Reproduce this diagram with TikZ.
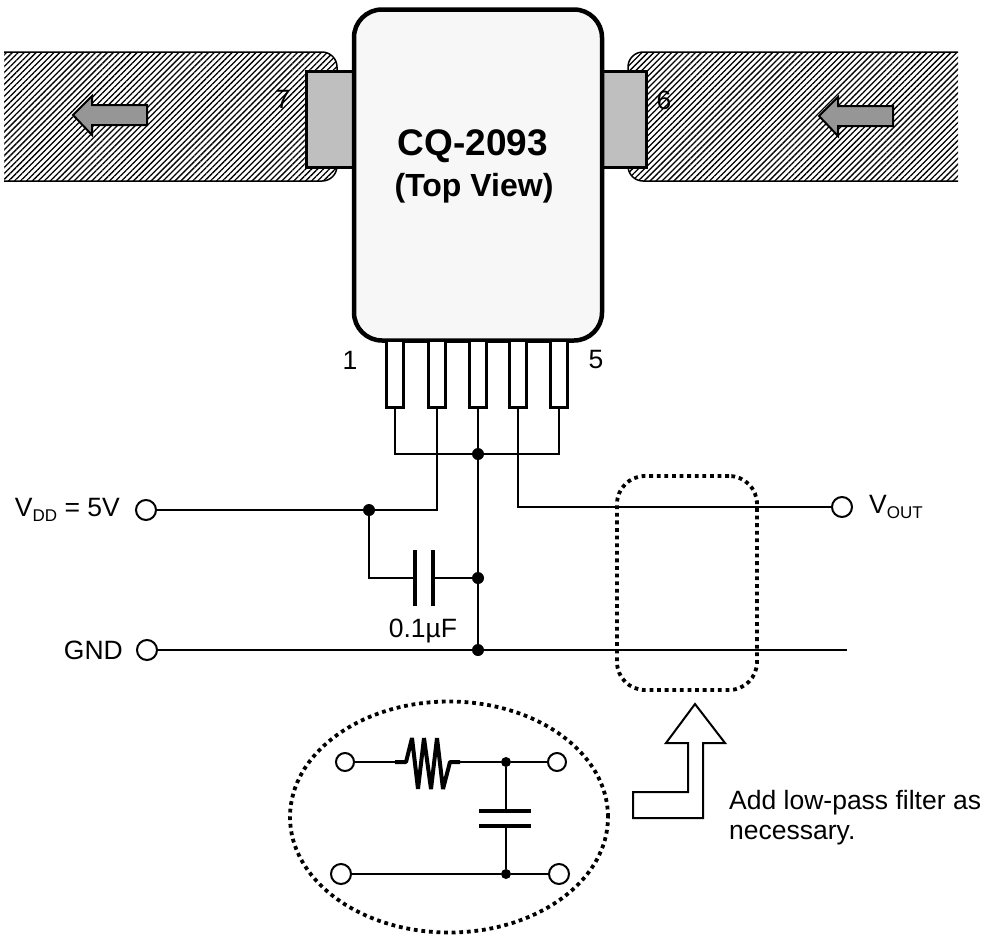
\documentclass[tikz,border=0pt]{standalone}
\usepackage{fontspec}
\setmainfont{Liberation Sans}
\usetikzlibrary{shapes.geometric,patterns.meta}

\newcommand{\subtxt}[1]{\raisebox{-0.2em}{\fontsize{17}{17}\selectfont #1}}

\tikzset{
  lbl/.style={font=\fontsize{26.5}{30}\selectfont, inner sep=0pt},
  wire/.style={line width=2pt, line join=miter},
  term/.style={circle, draw, line width=2pt, fill=white, inner sep=0pt, minimum size=20pt},
  smallterm/.style={term, minimum size=18pt},
  junc/.style={circle, fill=black, inner sep=0pt, minimum size=12pt},
  plate/.style={line width=4pt},
  dots/.style={line width=3.8pt, dash pattern=on 3.8pt off 3.8pt},
  pinbox/.style={rectangle, draw, line width=3pt, fill=white, inner sep=0pt, minimum width=17pt, minimum height=67pt},
  tabbox/.style={draw, line width=3pt, fill=black!25},
  hatch/.style={pattern={Lines[angle=45,distance=4.2pt,line width=1.3pt]}},
  flowarrow/.style={draw, line width=2pt, fill=black!41, line join=miter}
}

\begin{document}
\begin{tikzpicture}[x=1pt,y=-1pt]
\useasboundingbox (0,0) rectangle (988,938);

% boards
\fill [hatch] (4,52) [rounded corners=15pt] -- (337,52) -- (337,181) [sharp corners] -- (4,181) -- cycle;
\draw [line width=1.5pt, rounded corners=15pt] (4,52) -- (337,52) -- (337,181) -- (4,181);
\fill [hatch] (958,52) [rounded corners=15pt] -- (628,52) -- (628,181) [sharp corners] -- (958,181) -- cycle;
\draw [line width=1.5pt, rounded corners=15pt] (958,52) -- (628,52) -- (628,181) -- (958,181);

\foreach \dx/\dy in {0/0,746/1}
   \draw [flowarrow, shift={(\dx,\dy)}] (73,115) -- (92,96) -- (92,105) -- (147,105)
      -- (147,125) -- (92,125) -- (92,135) -- cycle;

% package
\draw [tabbox] (353,71) rectangle (306,167);
\draw [tabbox] (602,71) rectangle (646,167);
\node (chip) at (478,175) [rectangle, rounded corners=28pt, draw, line width=4.5pt, fill=black!3,
   minimum width=248pt, minimum height=331pt, inner sep=0pt] {};

\node (name) at (473,146) [lbl, font=\fontsize{37}{37}\selectfont\bfseries] {CQ-2093};
\node (view) at (474,188) [lbl, font=\fontsize{32}{32}\selectfont\bfseries] {(Top View)};
\node (p7) at (283,99) [lbl] {7};
\node (p6) at (664,100) [lbl] {6};
\node (p1) at (350,360) [lbl] {1};
\node (p5) at (596,360) [lbl] {5};

\foreach \i/\x in {1/395,2/437,3/478,4/518,5/559}
   \node (pin\i) at (\x,374) [pinbox] {};

% supply and ground
\node (vdd) at (146,510) [term] {};
\node (gnd) at (147,650) [term] {};
\node (vout) at (842,507) [term] {};
\coordinate (gndend) at (847,650);
\node (jbus) at (478,454) [junc] {};
\node (jcap) at (478,578) [junc] {};
\node (jgnd) at (478,650) [junc] {};
\node (jvdd) at (369,510) [junc] {};
\coordinate (capl) at (415,578);
\coordinate (capr) at (433,578);

\draw [wire] (pin1.south) |- (jbus);
\draw [wire] (pin5.south) |- (jbus);
\draw [wire] (pin3.south) -- (jbus) -- (jcap) -- (jgnd);
\draw [wire] (pin2.south) |- (jvdd) -- (vdd);
\draw [wire] (pin4.south) |- (vout);
\draw [wire] (gnd) -- (jgnd) -- (gndend);
\draw [wire] (jvdd) |- (capl);
\draw [wire] (capr) -- (jcap);
\draw [plate] (415,550) -- (415,606);
\draw [plate] (433,550) -- (433,606);

\node (vddtxt) at (120,510) [lbl, anchor=east] {V\subtxt{DD} = 5V};
\node (gndtxt) at (123,650) [lbl, anchor=east] {GND};
\node (vouttxt) at (869,507) [lbl, anchor=west] {V\subtxt{OUT}};
\node (captxt) at (423,631) [lbl] {0.1µF};

% filter
\node (fbox) at (687,583) [rectangle, rounded corners=28pt, draw, dots, minimum width=140pt,
   minimum height=214pt, inner sep=0pt] {};
\draw [line width=2pt, line join=miter, fill=white] (695,704) -- (725,743) -- (703,743) -- (703,818)
   -- (633,818) -- (633,792) -- (688,792) -- (688,743) -- (666,743) -- cycle;
\node (note) at (729,790) [lbl, anchor=north west, align=left] {Add low-pass filter as\\necessary.};

\node (fring) at (449,817) [ellipse, draw, dots, minimum width=318pt, minimum height=231pt, inner sep=0pt] {};

\node (fin) at (345,762) [smallterm] {};
\node (fout) at (557,762) [smallterm] {};
\node (fgin) at (341,874) [term] {};
\node (fgout) at (559,874) [term] {};
\node (jf) at (506,762) [junc, minimum size=10pt] {};
\node (jfg) at (506,874) [junc, minimum size=10pt] {};
\coordinate (rin) at (395,762);
\coordinate (rout) at (460,762);
\coordinate (cf1) at (506,811);
\coordinate (cf2) at (506,826);

\draw [wire] (fin) -- (rin);
\draw [wire] (rout) -- (jf) -- (fout);
\draw [wire] (fgin) -- (jfg) -- (fgout);
\draw [wire] (jf) -- (cf1);
\draw [wire] (cf2) -- (jfg);
\draw [plate, line join=bevel] (rin) -- (406,762) -- (412,738) -- (418,789) -- (424,738) -- (431,789)
   -- (437,738) -- (443,789) -- (450,762) -- (rout);
\draw [plate] (479,811) -- (531,811);
\draw [plate] (479,826) -- (531,826);

\end{tikzpicture}
\end{document}
